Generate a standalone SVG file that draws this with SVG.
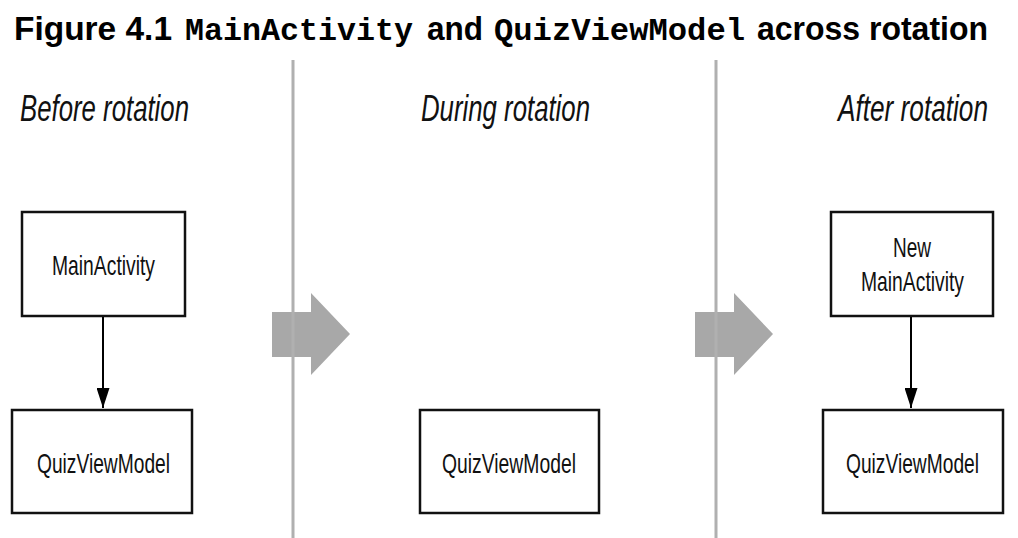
<svg xmlns="http://www.w3.org/2000/svg" width="1018" height="538" viewBox="0 0 1018 538">
<style>
.title{font-family:"Liberation Sans",Arial,sans-serif;font-weight:bold;font-size:34px;fill:#000}
.mono{font-family:"Liberation Mono","Courier New",monospace;font-weight:bold;font-size:32px;fill:#000}
.head{font-family:"Liberation Sans",Arial,sans-serif;font-style:italic;font-size:37px;fill:#111}
.lbl{font-family:"Liberation Sans",Arial,sans-serif;font-size:28px;fill:#111}
.box{fill:#fff;stroke:#111;stroke-width:2.5}
.div{stroke:#b0b0b0;stroke-width:3}
.big{fill:#a8a8a8}
.conn{stroke:#000;stroke-width:2;fill:none}
</style>
<defs>
<marker id="ah" viewBox="0 0 10 10" refX="10" refY="5" markerWidth="20" markerHeight="13" markerUnits="userSpaceOnUse" orient="auto" preserveAspectRatio="none">
<path d="M0,0 L10,5 L0,10 Z" fill="#000"/>
</marker>
</defs>
<rect width="1018" height="538" fill="#fff"/>
<g id="title">
<text class="title" x="14" y="40" textLength="158" lengthAdjust="spacingAndGlyphs">Figure 4.1</text>
<text class="mono" x="185" y="40" textLength="228" lengthAdjust="spacingAndGlyphs">MainActivity</text>
<text class="title" x="427" y="40" textLength="56" lengthAdjust="spacingAndGlyphs">and</text>
<text class="mono" x="494" y="40" textLength="251" lengthAdjust="spacingAndGlyphs">QuizViewModel</text>
<text class="title" x="757" y="40" textLength="231" lengthAdjust="spacingAndGlyphs">across rotation</text>
</g>
<g id="headings">
<text class="head" x="20" y="121" textLength="169" lengthAdjust="spacingAndGlyphs">Before rotation</text>
<text class="head" x="421" y="121" textLength="169" lengthAdjust="spacingAndGlyphs">During rotation</text>
<text class="head" x="838" y="121" textLength="150" lengthAdjust="spacingAndGlyphs">After rotation</text>
</g>
<g id="transition-arrows">
<polygon class="big" points="272,312 311,312 311,293 350,334 311,375 311,357 272,357"/>
<polygon class="big" points="695,312 734,312 734,293 773,334 734,375 734,357 695,357"/>
</g>
<g id="dividers">
<line class="div" x1="293" y1="60" x2="293" y2="538"/>
<line class="div" x1="716" y1="60" x2="716" y2="538"/>
</g>
<g id="node-mainactivity">
<rect class="box" x="22" y="212" width="163" height="104"/>
<text class="lbl" x="52" y="275" textLength="103" lengthAdjust="spacingAndGlyphs">MainActivity</text>
</g>
<g id="node-quiz-before">
<rect class="box" x="12" y="410" width="180" height="103"/>
<text class="lbl" x="37" y="473" textLength="133" lengthAdjust="spacingAndGlyphs">QuizViewModel</text>
</g>
<g id="node-quiz-during">
<rect class="box" x="420" y="410" width="179" height="103"/>
<text class="lbl" x="442" y="473" textLength="134" lengthAdjust="spacingAndGlyphs">QuizViewModel</text>
</g>
<g id="node-new-mainactivity">
<rect class="box" x="831" y="212" width="162" height="104"/>
<text class="lbl" x="893" y="257" textLength="38" lengthAdjust="spacingAndGlyphs">New</text>
<text class="lbl" x="861" y="291" textLength="103" lengthAdjust="spacingAndGlyphs">MainActivity</text>
</g>
<g id="node-quiz-after">
<rect class="box" x="823" y="410" width="180" height="103"/>
<text class="lbl" x="846" y="473" textLength="133" lengthAdjust="spacingAndGlyphs">QuizViewModel</text>
</g>
<g id="connectors">
<line class="conn" x1="103" y1="317" x2="103" y2="408" marker-end="url(#ah)"/>
<line class="conn" x1="911" y1="317" x2="911" y2="408" marker-end="url(#ah)"/>
</g>
</svg>
